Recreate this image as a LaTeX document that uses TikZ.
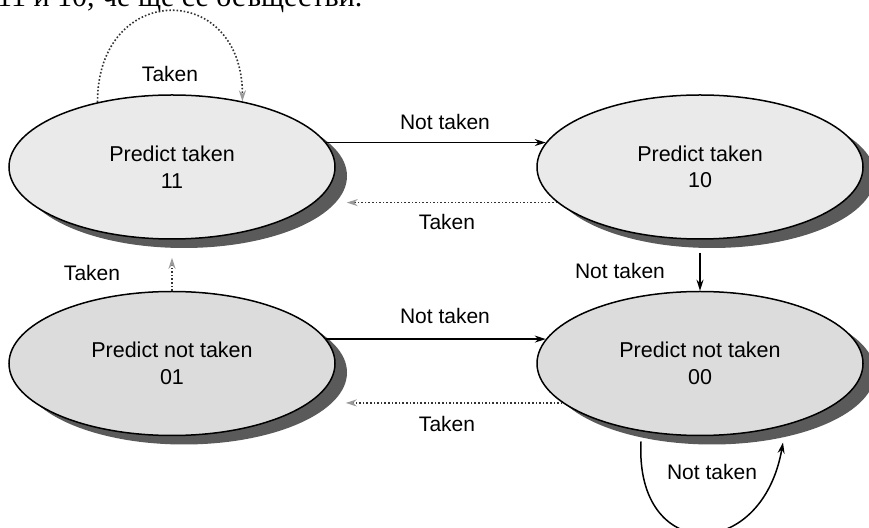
\documentclass[tikz,border=0pt]{standalone}
\usepackage{fontspec}
\setmainfont{Liberation Sans}
\newfontfamily\cyrserif{Liberation Serif}
\usetikzlibrary{shapes.geometric,shadows,arrows.meta,calc}
\definecolor{lightfill}{HTML}{EAEAEA}
\definecolor{midfill}{HTML}{DCDCDC}
\definecolor{shadowgray}{HTML}{5A5A5A}
\definecolor{dotgray}{HTML}{9A9A9A}
\definecolor{dotline}{HTML}{333333}
\begin{document}
\begin{tikzpicture}[x=1pt,y=1pt,
  state/.style={ellipse, draw, line width=1.5pt, minimum width=326pt, minimum height=144pt,
    inner sep=0pt, align=center, font=\fontsize{21.5}{26.5}\selectfont,
    drop shadow={shadow xshift=12pt, shadow yshift=-9pt, fill=shadowgray, opacity=1}},
  lbl/.style={font=\fontsize{21}{25}\selectfont, inner sep=0pt},
  solidarrow/.style={line width=1.5pt, -{Stealth[length=11pt,width=7pt]}},
  dotarrow/.style={line width=1.6pt, dotline, dotted, -{Stealth[length=11pt,width=7pt,color=dotgray]}}]
\clip (0,0) rectangle (869,527);
\fill[white] (0,0) rectangle (869,527);
\node[anchor=base west, inner sep=0pt, font=\cyrserif\fontsize{30}{36}\selectfont] (head) at (-3,520) {11 и 10, че ще се осъществи.};

\node[state, fill=lightfill] (e11) at (172,360) {Predict taken\\11};
\node[state, fill=lightfill] (e10) at (700,360) {Predict taken\\10};
\node[state, fill=midfill] (e01) at (172,163.5) {Predict not taken\\01};
\node[state, fill=midfill] (e00) at (700,163.5) {Predict not taken\\00};

\coordinate (s11) at ($(e11.east)+(11,0)$);
\coordinate (s01) at ($(e01.east)+(10,0)$);
\coordinate (b10) at ($(e10.south)+(0,-13)$);
\coordinate (b11) at ($(e11.south)+(0,-18)$);
\coordinate (l0) at ($(e00.center)+(-59,-78)$);
\coordinate (l1) at ($(e00.center)+(83,-79)$);

% transitions
\draw[solidarrow] (e11.9) -- (e10.171);
\draw[dotarrow] (e10.194) -- (e10.194 -| s11);
\draw[solidarrow] (b10) -- (e00.north);
\draw[dotarrow] (e01.north) -- (b11);
\draw[solidarrow] (e01.9) -- (e00.171);
\draw[dotarrow] (e00.196) -- (e00.196 -| s01);
\draw[dotarrow] (e11.139) to[out=90,in=90,looseness=2.13] (e11.43);
\draw[solidarrow] (l0) to[out=-93,in=-100,looseness=2.2] (l1);

% labels
\node[lbl] (t1) at (170,453) {Taken};
\node[lbl] (n1) at (445,405) {Not taken};
\node[lbl] (t2) at (447,305) {Taken};
\node[lbl] (n2) at (620,256) {Not taken};
\node[lbl] (t3) at (92,254) {Taken};
\node[lbl] (n3) at (445,211) {Not taken};
\node[lbl] (t4) at (447,103) {Taken};
\node[lbl] (n4) at (712,55) {Not taken};
\end{tikzpicture}
\end{document}
